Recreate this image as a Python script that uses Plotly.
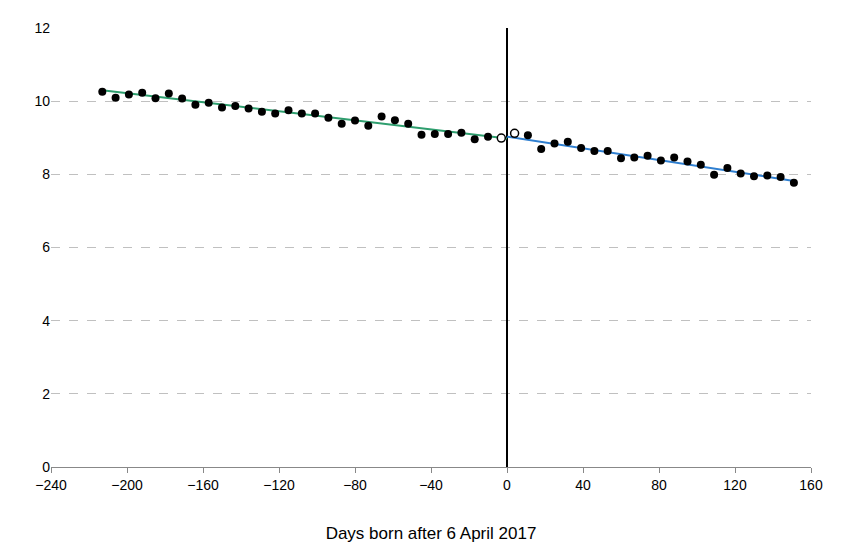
import plotly.graph_objects as go

# --- data ---
before_x = list(range(-213, -3, 7))
before_y = [10.26, 10.09, 10.18, 10.23, 10.08, 10.21, 10.07, 9.90, 9.96, 9.83,
            9.87, 9.80, 9.71, 9.66, 9.75, 9.66, 9.66, 9.55, 9.38, 9.47,
            9.33, 9.58, 9.48, 9.38, 9.08, 9.10, 9.10, 9.14, 8.96, 9.03]
after_x = list(range(11, 152, 7))
after_y = [9.07, 8.69, 8.84, 8.89, 8.72, 8.64, 8.64, 8.44, 8.46, 8.51, 8.38,
           8.46, 8.35, 8.26, 7.99, 8.17, 8.02, 7.95, 7.97, 7.93, 7.77]
open_x = [-3, 4]
open_y = [8.99, 9.12]
fit_before_x = [-213, 0]
fit_before_y = [10.30, 8.98]
fit_after_x = [0, 151]
fit_after_y = [9.03, 7.82]

fig = go.Figure()
fig.add_trace(go.Scatter(x=[0, 0], y=[0, 12], mode='lines',
                         line=dict(color='black', width=2)))
fig.add_trace(go.Scatter(x=fit_before_x, y=fit_before_y, mode='lines',
                         line=dict(color='#2e9e6e', width=2)))
fig.add_trace(go.Scatter(x=fit_after_x, y=fit_after_y, mode='lines',
                         line=dict(color='#2f7fd0', width=2)))
fig.add_trace(go.Scatter(x=before_x + after_x, y=before_y + after_y, mode='markers',
                         marker=dict(color='black', size=8)))
fig.add_trace(go.Scatter(x=open_x, y=open_y, mode='markers',
                         marker=dict(color='white', size=8,
                                     line=dict(color='black', width=1.5))))

fig.update_layout(
    width=848, height=553, showlegend=False,
    plot_bgcolor='white', paper_bgcolor='white',
    margin=dict(l=43, r=45, t=12, b=94),
    font=dict(family='Liberation Sans, Arial', size=14, color='black'),
    xaxis=dict(range=[-240, 160], dtick=40, showgrid=False, zeroline=False,
               showline=True, linecolor='#888', ticks='outside', ticklen=5,
               tickcolor='#888',
               title=dict(text='Days born after 6 April 2017', standoff=35)),
    yaxis=dict(range=[0, 12], dtick=2, showgrid=True, gridcolor='#c0c0c0',
               griddash='dash', zeroline=False, showline=False),
)

fig.write_html("out.html")
